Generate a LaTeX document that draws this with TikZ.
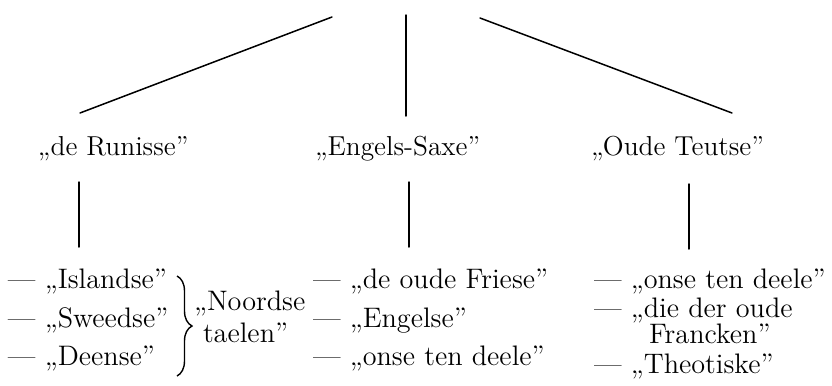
\documentclass[tikz,border=0pt]{standalone}
\usepackage{fontspec}
\usetikzlibrary{decorations.pathreplacing}
\begin{document}
\begin{tikzpicture}[x=0.5pt,y=-0.5pt,
  lbl/.style={anchor=base west,inner sep=0pt,outer sep=0pt,font=\fontsize{13.7}{16}\selectfont},
  row/.style={lbl,font=\fontsize{14.1}{16}\selectfont},
  stem/.style={line width=0.75pt,line cap=round},
  bracestyle/.style={line width=0.7pt,decorate,decoration={brace,amplitude=7.5pt,aspect=0.5}}]
\useasboundingbox (0,0) rectangle (832,386);
\clip (0,0) rectangle (832,386);
% top branches
\coordinate (la) at (80,113);  \coordinate (lb) at (332,17);
\coordinate (ma) at (406,116); \coordinate (mb) at (406,15);
\coordinate (ra) at (732,113); \coordinate (rb) at (480,18);
\draw[stem] (la) -- (lb);
\draw[stem] (ma) -- (mb);
\draw[stem] (ra) -- (rb);
% group labels
\node[lbl] (runisse) at (38,155) {„de Runisse”};
\node[lbl] (saxe) at (315,155) {„Engels-Saxe”};
\node[lbl] (teutse) at (591,155) {„Oude Teutse”};
% lower stems
\coordinate (s1a) at (79,182);  \coordinate (s1b) at (79,247);
\coordinate (s2a) at (409,182); \coordinate (s2b) at (409,247);
\coordinate (s3a) at (689,184); \coordinate (s3b) at (689,249);
\draw[stem] (s1a) -- (s1b);
\draw[stem] (s2a) -- (s2b);
\draw[stem] (s3a) -- (s3b);
% column 1
\node[row] (isl) at (8,288) {— „Islandse”};
\node[row] (swe) at (8,327) {— „Sweedse”};
\node[row] (dee) at (8,365) {— „Deense”};
\coordinate (bt) at (177,276); \coordinate (bb) at (177,376);
\draw[bracestyle] (bt) -- (bb);
\node[row] (noord) at (194,310) {„Noordse};
\node[row] (tael) at (203,342) {taelen”};
% column 2
\node[row] (fri) at (313,288) {— „de oude Friese”};
\node[row] (eng) at (313,327) {— „Engelse”};
\node[row] (onse2) at (313,365) {— „onse ten deele”};
% column 3
\node[row] (onse3) at (594,288) {— „onse ten deele”};
\node[row] (die) at (594,317) {— „die der oude};
\node[row] (fra) at (649,343) {Francken”};
\node[row] (theo) at (594,373) {— „Theotiske”};
\end{tikzpicture}
\end{document}
